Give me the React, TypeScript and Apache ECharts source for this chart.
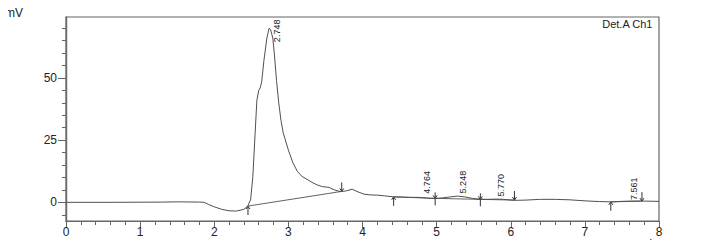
import React, { useEffect, useRef } from "react";
import * as echarts from "echarts";

// Chromatogram trace (retention time in min, signal in mV)
const traceTime = [
  0, 0.5, 1.0, 1.3, 1.5, 1.65, 1.8, 1.86, 1.92, 2.0, 2.1, 2.2, 2.3, 2.4, 2.45,
  2.49, 2.52, 2.55, 2.575, 2.6, 2.62, 2.64, 2.67, 2.71, 2.74, 2.76, 2.79, 2.81,
  2.84, 2.87, 2.9, 2.93, 3.0, 3.06, 3.12, 3.18, 3.25, 3.32, 3.39, 3.46, 3.55,
  3.62, 3.7, 3.78, 3.86, 3.94, 4.02, 4.1, 4.2, 4.3, 4.42, 4.55, 4.65, 4.76,
  4.88, 4.98, 5.08, 5.19, 5.28, 5.38, 5.48, 5.59, 5.7, 5.8, 5.9, 6.05, 6.2,
  6.4, 6.6, 6.8, 7.0, 7.2, 7.35, 7.5, 7.65, 7.8, 8.0,
];
const traceMv = [
  0, 0, 0.05, 0.1, 0.2, 0.15, 0.1, 0, -0.8, -1.8, -2.8, -3.4, -3.5, -2.8, -1.6,
  1, 10, 27, 41, 45, 46, 48.5, 57, 66, 70, 69.5, 66, 60, 49, 40, 33, 28, 21, 16,
  12.5, 10.5, 9.3, 8, 7, 6.3, 6, 5, 4.3, 4.6, 5.3, 4.2, 3.3, 3.0, 2.9, 2.6,
  2.2, 2.1, 2.0, 2.0, 1.7, 1.5, 1.8, 2.2, 2.5, 2.2, 1.6, 1.2, 1.2, 1.3, 1.2,
  0.8, 0.9, 1.2, 1.2, 1.0, 0.6, 0.3, 0.2, 0.4, 0.5, 0.5, 0.4,
];

// Integration baselines
const baseStartT = [2.455, 4.42, 4.98, 5.59, 7.35];
const baseStartV = [-1.5, 2.2, 1.6, 1.2, 0.2];
const baseEndT = [3.72, 4.98, 5.59, 6.05, 7.77];
const baseEndV = [4.4, 1.6, 1.2, 0.9, 0.5];

// Peak start/end markers
const markerTimes = [2.455, 3.72, 4.42, 4.98, 5.59, 6.05, 7.35, 7.77];
const markerMv = [-1.5, 4.4, 2.2, 1.6, 1.2, 0.9, 0.2, 0.5];
const markerKinds = ["up", "down", "up", "cross", "cross", "down", "up", "down"];

// Peak retention time labels
const peakLabels = ["2.748", "4.764", "5.248", "5.770", "7.561"];
const peakLabelBaseMv = [64.4, 3.5, 3.6, 2.3, 0.9];

// Axis ticks
const yLabelValues = [0, 25, 50];
const yMinorValues = [-5, 5, 10, 15, 20, 30, 35, 40, 45, 55, 60, 65, 70];

const FONT = "'Liberation Sans', Arial, sans-serif";
const AXIS_COLOR = "#666";
const LINE_COLOR = "#505050";

export default function App() {
  const ref = useRef<HTMLDivElement>(null);

  useEffect(() => {
    if (!ref.current) return;
    const chart = echarts.init(ref.current, undefined, { renderer: "svg" });

    const baselineSeries = baseStartT.map((t, i) => ({
      type: "line",
      data: [
        [t, baseStartV[i]],
        [baseEndT[i], baseEndV[i]],
      ],
      showSymbol: false,
      silent: true,
      lineStyle: { color: LINE_COLOR, width: 0.9 },
    }));

    chart.setOption({
      animation: false,
      textStyle: { fontFamily: FONT },
      grid: {
        left: 66,
        right: 44,
        top: 17,
        bottom: 28,
        show: true,
        borderColor: AXIS_COLOR,
        borderWidth: 1.2,
      },
      xAxis: {
        type: "value",
        min: 0,
        max: 8,
        interval: 1,
        axisLine: { onZero: false, lineStyle: { color: AXIS_COLOR, width: 1.2 } },
        axisTick: { length: 7, lineStyle: { color: AXIS_COLOR } },
        minorTick: { show: true, splitNumber: 5, length: 4, lineStyle: { color: AXIS_COLOR } },
        axisLabel: { fontSize: 12, color: "#222", margin: 5, fontFamily: FONT },
        splitLine: { show: false },
      },
      yAxis: [
        {
          type: "value",
          min: -7.5,
          max: 74.5,
          position: "left",
          axisLine: { show: true, onZero: false, lineStyle: { color: AXIS_COLOR, width: 1.2 } },
          axisTick: { show: true, length: 8, customValues: yLabelValues, lineStyle: { color: AXIS_COLOR } },
          axisLabel: { fontSize: 12, color: "#222", margin: 9, customValues: yLabelValues, fontFamily: FONT },
          splitLine: { show: false },
        },
        {
          type: "value",
          min: -7.5,
          max: 74.5,
          position: "left",
          offset: 0,
          axisLine: { show: true, onZero: false, lineStyle: { color: AXIS_COLOR, width: 1.2 } },
          axisTick: { show: true, length: 4, customValues: yMinorValues, lineStyle: { color: AXIS_COLOR } },
          axisLabel: { show: false },
          splitLine: { show: false },
        },
      ],
      series: [
        {
          type: "line",
          data: traceTime.map((t, i) => [t, traceMv[i]]),
          showSymbol: false,
          silent: true,
          lineStyle: { color: LINE_COLOR, width: 1 },
        },
        ...baselineSeries,
      ],
    });

    const toPx = (t: number, v: number) => chart.convertToPixel({ gridIndex: 0 }, [t, v]) as number[];

    const elements: any[] = [
      { type: "text", left: 5, top: 7, style: { text: "mV", fontSize: 12, fill: "#222", fontFamily: FONT } },
      { type: "text", right: 50, top: 18, style: { text: "Det.A Ch1", fontSize: 11, fill: "#222", fontFamily: FONT } },
      {
        type: "text",
        x: 658,
        y: 243,
        style: { text: "min", fontSize: 11, fill: "#222", fontFamily: FONT, align: "right", verticalAlign: "middle" },
      },
    ];

    const ms = { stroke: "#333", lineWidth: 1, fill: "none" };
    markerTimes.forEach((t, i) => {
      const [x, y] = toPx(t, markerMv[i]);
      const kind = markerKinds[i];
      if (kind === "up") {
        elements.push({ type: "line", shape: { x1: x, y1: y, x2: x, y2: y + 9 }, style: ms, silent: true });
        elements.push({ type: "polyline", shape: { points: [[x - 2, y + 3], [x, y], [x + 2, y + 3]] }, style: ms, silent: true });
      } else if (kind === "down") {
        elements.push({ type: "line", shape: { x1: x, y1: y - 9, x2: x, y2: y }, style: ms, silent: true });
        elements.push({ type: "polyline", shape: { points: [[x - 2, y - 3], [x, y], [x + 2, y - 3]] }, style: ms, silent: true });
      } else {
        elements.push({ type: "line", shape: { x1: x, y1: y - 6, x2: x, y2: y + 7 }, style: ms, silent: true });
        elements.push({ type: "line", shape: { x1: x - 3, y1: y, x2: x + 3, y2: y }, style: ms, silent: true });
        elements.push({ type: "polyline", shape: { points: [[x - 2, y - 3], [x, y], [x + 2, y - 3]] }, style: ms, silent: true });
      }
    });

    peakLabels.forEach((lab, i) => {
      const [x, y] = toPx(parseFloat(lab), peakLabelBaseMv[i]);
      elements.push({
        type: "text",
        x: x + 7.5,
        y: y,
        rotation: Math.PI / 2,
        silent: true,
        style: {
          text: lab,
          fontSize: 9,
          fill: "#222",
          fontFamily: FONT,
          align: "left",
          verticalAlign: "middle",
        },
      });
    });

    chart.setOption({ graphic: { elements } });

    return () => chart.dispose();
  }, []);

  return <div ref={ref} style={{ width: 703, height: 249, margin: -8 }} />;
}
